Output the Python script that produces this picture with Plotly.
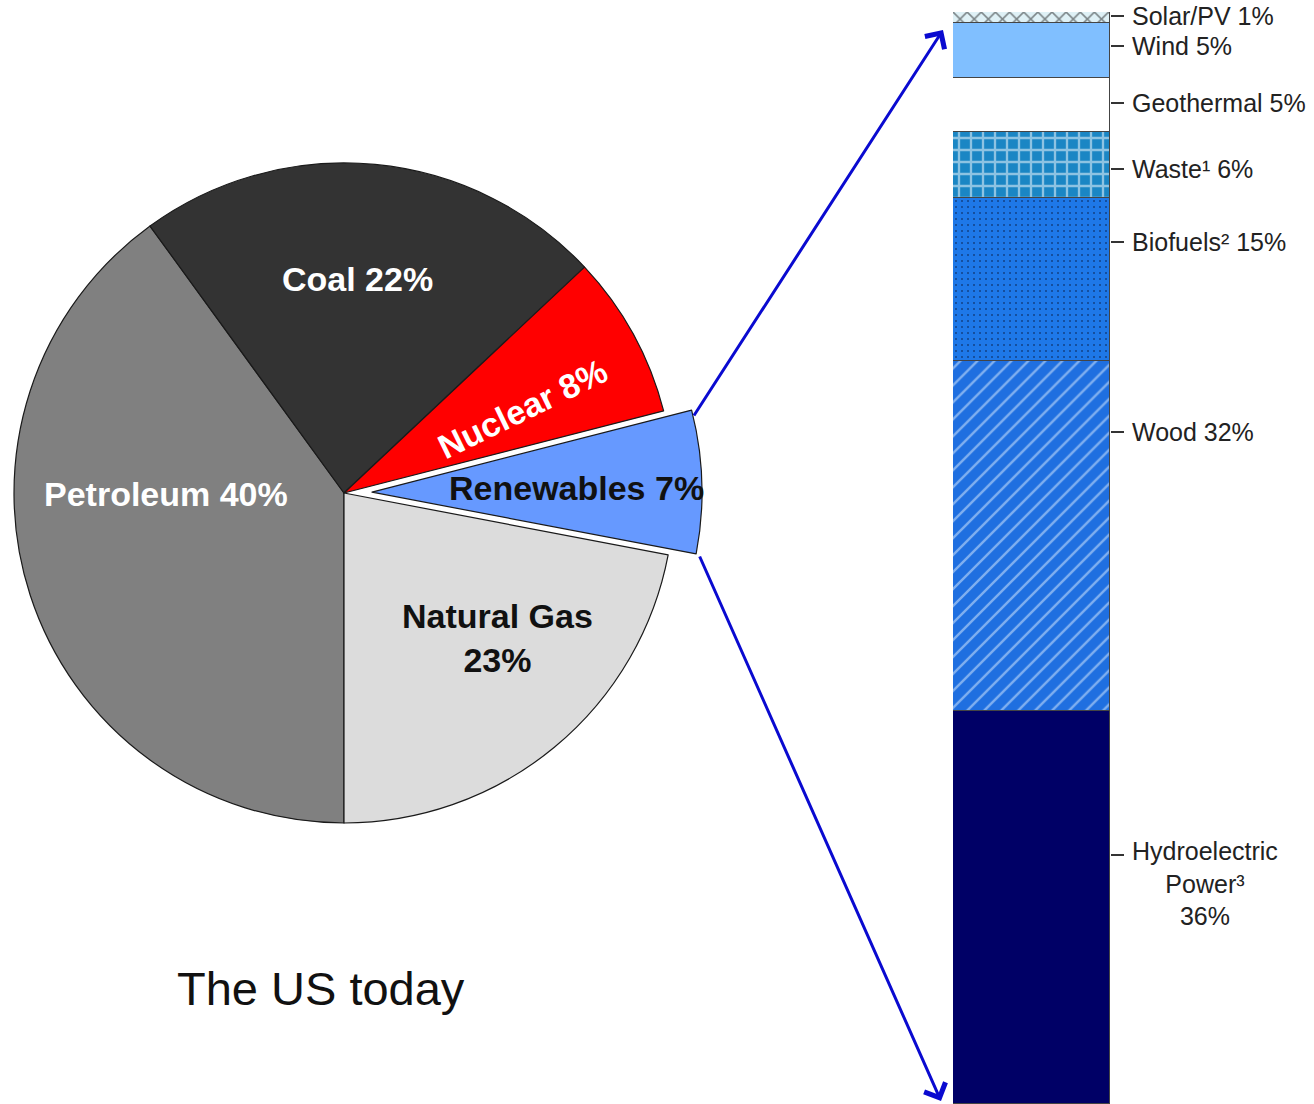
import math
import plotly.graph_objects as go

W, H = 1314, 1104

# ---------------- data ----------------
pie_labels = ["Petroleum", "Coal", "Nuclear", "Renewables", "Natural Gas"]
pie_values = [40, 23, 8, 7, 22]          # slice sizes as drawn
pie_texts = ["Petroleum 40%", "Coal 22%", "Nuclear 8%", "Renewables 7%", "Natural Gas<br>23%"]
pie_colors = ["#808080", "#333333", "#ff0000", "#6699ff", "#dcdcdc"]
pie_text_colors = ["#ffffff", "#ffffff", "#ffffff", "#111111", "#111111"]

ren_labels = ["Hydroelectric Power³", "Wood", "Biofuels²", "Waste¹", "Geothermal", "Wind", "Solar/PV"]
ren_values = [36, 32, 15, 6, 5, 5, 1]
ren_texts = ["Hydroelectric<br>Power³<br>36%", "Wood 32%", "Biofuels² 15%", "Waste¹ 6%",
             "Geothermal 5%", "Wind 5%", "Solar/PV 1%"]

# ---------------- styles / layout helpers ----------------
px2x = lambda x: x / W
px2y = lambda y: 1 - y / H

pie_cx, pie_cy, pie_r = 344, 493, 330
pull_px = 28
ren_idx = pie_labels.index("Renewables")

fig = go.Figure()

# main pie (the pulled slice left empty)
main_colors = [c if i != ren_idx else "rgba(0,0,0,0)" for i, c in enumerate(pie_colors)]
main_lw = [0 if i == ren_idx else 1.2 for i in range(len(pie_values))]
fig.add_trace(go.Pie(
    labels=pie_labels, values=pie_values, sort=False, direction="clockwise",
    rotation=180, textinfo="none", hoverinfo="label+value", showlegend=False,
    marker=dict(colors=main_colors, line=dict(color="#1a1a1a", width=main_lw)),
    domain=dict(x=[px2x(pie_cx - pie_r), px2x(pie_cx + pie_r)],
                y=[px2y(pie_cy + pie_r), px2y(pie_cy - pie_r)]),
))

# pulled slice drawn as its own pie, shifted along its mid-angle
tot = sum(pie_values)
cum = sum(pie_values[:ren_idx])
mid = math.radians(270 - 360 * (cum + pie_values[ren_idx] / 2) / tot)
dx, dy = pull_px * math.cos(mid), -pull_px * math.sin(mid)
pcx, pcy = pie_cx + dx, pie_cy + dy
pull_colors = [c if i == ren_idx else "rgba(0,0,0,0)" for i, c in enumerate(pie_colors)]
pull_lw = [1.2 if i == ren_idx else 0 for i in range(len(pie_values))]
fig.add_trace(go.Pie(
    labels=pie_labels, values=pie_values, sort=False, direction="clockwise",
    rotation=180, textinfo="none", hoverinfo="skip", showlegend=False,
    marker=dict(colors=pull_colors, line=dict(color="#1a1a1a", width=pull_lw)),
    domain=dict(x=[px2x(pcx - pie_r), px2x(pcx + pie_r)],
                y=[px2y(pcy + pie_r), px2y(pcy - pie_r)]),
))

# stacked renewables bar
seg_style = {
    "Hydroelectric Power³": dict(color="#000066"),
    "Wood": dict(color="#1f6fe0", pattern=dict(shape="/", fgcolor="#e0f0ff", bgcolor="#1f6fe0", size=12, solidity=0.2)),
    "Biofuels²": dict(color="#1e78e8", pattern=dict(shape=".", fgcolor="#061030", bgcolor="#1e78e8", size=6, solidity=0.1)),
    "Waste¹": dict(color="#1a86c4", pattern=dict(shape="+", fgcolor="#ffffff", bgcolor="#1a86c4", size=12, solidity=0.35)),
    "Geothermal": dict(color="#ffffff"),
    "Wind": dict(color="#80bfff"),
    "Solar/PV": dict(color="#dff1f6", pattern=dict(shape="x", fgcolor="#1a1a1a", bgcolor="#dff1f6", size=10, solidity=0.3)),
}
for lab, val in zip(ren_labels, ren_values):
    st = seg_style[lab]
    fig.add_trace(go.Bar(
        x=[0], y=[val], name=lab, width=1, xaxis="x2", yaxis="y2", showlegend=False,
        marker=dict(color=st["color"], line=dict(color="#444444", width=1),
                    pattern=st.get("pattern", dict(shape=""))),
        hoverinfo="name+y",
    ))

bar_left, bar_right, bar_top, bar_bottom = 953, 1110, 12, 1104
label_pos = [22.8, 61.5, 78.9, 85.6, 91.7, 96.9, 99.6]   # tick / label anchors (axis units)

annotations = []
# pie labels
pie_label_px = [(166, 494, 0), (357, 279, 0), (522, 409, -26), (576, 488, 0), (497, 638, 0)]
for txt, col, (x, y, ang) in zip(pie_texts, pie_text_colors, pie_label_px):
    annotations.append(dict(
        x=px2x(x), y=px2y(y), xref="paper", yref="paper", text=txt, showarrow=False,
        textangle=ang, xanchor="center", yanchor="middle", align="center",
        font=dict(family="Liberation Sans, Arial", size=34, color=col, weight="bold"),
    ))

# bar labels
for lab, txt, pos in zip(ren_labels, ren_texts, label_pos):
    multi = "<br>" in txt
    annotations.append(dict(
        x=px2x(1130), y=pos - (2.6 if multi else 0), xref="paper", yref="y2", text=txt,
        showarrow=False, xanchor="left", yanchor="middle", align="center",
        font=dict(family="Liberation Sans, Arial", size=25, color="#222222"),
    ))

# arrows
arrow_col = "#0a0ad0"
annotations.append(dict(x=px2x(943), y=px2y(30), xref="paper", yref="paper", ax=693 - 943, ay=417 - 30,
                        axref="pixel", ayref="pixel", showarrow=True, arrowhead=4, arrowsize=1.5,
                        arrowwidth=3, arrowcolor=arrow_col, text=""))
annotations.append(dict(x=px2x(941), y=px2y(1101), xref="paper", yref="paper", ax=699 - 941, ay=555 - 1101,
                        axref="pixel", ayref="pixel", showarrow=True, arrowhead=4, arrowsize=1.5,
                        arrowwidth=3, arrowcolor=arrow_col, text=""))

# caption
annotations.append(dict(x=px2x(175), y=px2y(988), xref="paper", yref="paper", text="The US today",
                        showarrow=False, xanchor="left", yanchor="middle",
                        font=dict(family="Liberation Sans, Arial", size=47, color="#111111")))

fig.update_layout(
    width=W, height=H, margin=dict(l=0, r=0, t=0, b=0),
    paper_bgcolor="white", plot_bgcolor="rgba(0,0,0,0)",
    barmode="stack", bargap=0, showlegend=False,
    xaxis2=dict(domain=[px2x(bar_left), px2x(bar_right)], range=[-0.5, 0.5], visible=False,
                anchor="y2", fixedrange=True),
    yaxis2=dict(domain=[px2y(bar_bottom), px2y(bar_top)], range=[0, sum(ren_values)], anchor="x2",
                side="right", showgrid=False, zeroline=False, showline=False,
                tickvals=label_pos, ticks="outside", ticklen=13, tickwidth=1.5, tickcolor="#333333",
                showticklabels=False, fixedrange=True),
    annotations=annotations,
)

fig.write_html("out.html")
